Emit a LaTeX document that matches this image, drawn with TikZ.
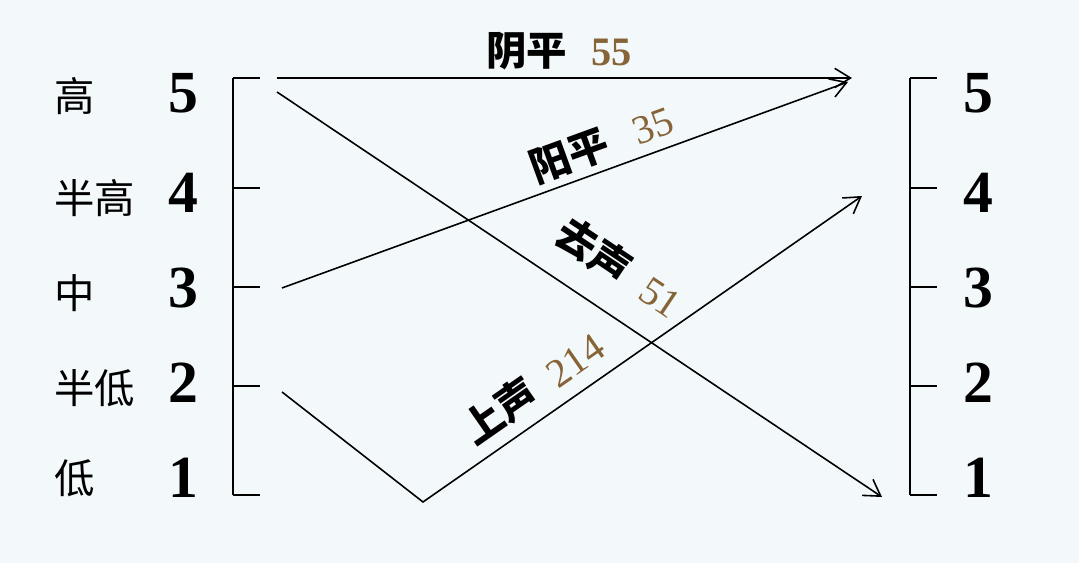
\documentclass[tikz,border=0pt]{standalone}
\usepackage{fontspec}
\setmainfont{Liberation Serif}
\newfontfamily\cjk{Noto Sans CJK SC}
\usetikzlibrary{arrows.meta}
\definecolor{bgblue}{RGB}{243,248,251}
\definecolor{tonebrown}{RGB}{134,100,55}
\newcommand{\tonenum}[1]{\textcolor{tonebrown}{#1}}

\begin{document}
\begin{tikzpicture}[
  scale line/.style={line width=0.6pt},
  tone line/.style={line width=0.45pt,-{Straight Barb[length=4.5pt,width=5.5pt]}},
  num/.style={font=\fontsize{17}{20}\selectfont\bfseries},
  lvl/.style={font=\fontsize{11.5}{13}\selectfont\cjk,anchor=west},
  lab/.style={font=\fontsize{11.5}{14}\selectfont,sloped,inner sep=1pt}
]
\fill[bgblue] (0,0) rectangle (10.79,5.63);
\useasboundingbox (0,0) rectangle (10.79,5.63);

% the two scales
\draw[scale line] (2.33,4.85) -- (2.33,0.68);
\draw[scale line] (9.10,4.85) -- (9.10,0.68);
\foreach \y in {4.85,3.75,2.76,1.77,0.68}{
	\draw[scale line] (2.33,\y) -- (2.60,\y);
	\draw[scale line] (9.10,\y) -- (9.37,\y);
	}

\foreach \n/\y in {5/4.70,4/3.70,3/2.75,2/1.80,1/0.85}{
	\node[num] (l\n) at (1.83,\y) {\n};
	\node[num] (r\n) at (9.78,\y) {\n};
	}

\foreach \n/\t/\y in {5/高/4.67,4/半高/3.65,3/中/2.70,2/半低/1.75,1/低/0.85}{
	\node[lvl] (t\n) at (0.42,\y) {\t};
	}

% tones
\coordinate (s55) at (2.77,4.85);
\coordinate (e55) at (8.52,4.85);
\coordinate (s35) at (2.82,2.75);
\coordinate (e35) at (8.48,4.81);
\coordinate (s51) at (2.77,4.71);
\coordinate (e51) at (8.82,0.66);
\coordinate (s214) at (2.82,1.71);
\coordinate (m214) at (4.23,0.61);
\coordinate (e214) at (8.62,3.67);

\draw[tone line] (s55) -- node[lab,pos=0.49,above=1pt] (n55) {{\cjk\bfseries 阴平}\hspace{0.6em}{\bfseries\tonenum{55}}} (e55);
\draw[tone line] (s35) -- node[lab,pos=0.58,above=1pt] (n35) {{\cjk\bfseries 阳平}\hspace{0.7em}\tonenum{35}} (e35);
\draw[tone line] (s51) -- node[lab,pos=0.525,above=6pt] (n51) {{\cjk\bfseries 去声}\hspace{0.5em}\tonenum{51}} (e51);
\draw[tone line] (s214) -- (m214) -- node[lab,pos=0.29,above=2pt] (n214) {{\cjk\bfseries 上声}\hspace{0.5em}\tonenum{214}} (e214);
\end{tikzpicture}
\end{document}
